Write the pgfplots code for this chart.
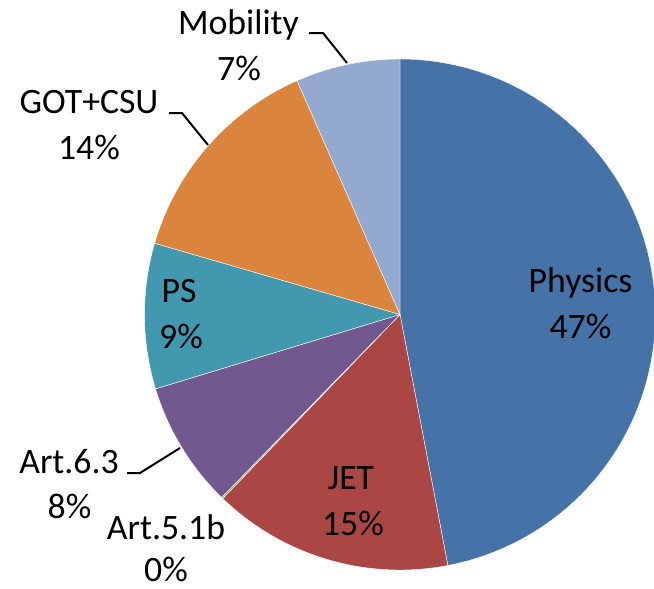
\documentclass[border=0pt]{standalone}
\usepackage{pgfplots}
\usepackage{pgfplotstable}
\pgfplotsset{compat=1.18}
\usepackage{fontspec}
\setmainfont{Carlito}
\definecolor{cA}{HTML}{4572A7}
\definecolor{cB}{HTML}{AA4643}
\definecolor{cC}{HTML}{89A54E}
\definecolor{cD}{HTML}{71588F}
\definecolor{cE}{HTML}{4198AF}
\definecolor{cF}{HTML}{DB843D}
\definecolor{cG}{HTML}{93A9CF}
\pgfplotstableread{
label value
Physics 47.0
JET 15.2
Art.5.1b 0.1
Art.6.3 8.0
PS 9.2
GOT+CSU 13.9
Mobility 6.6
}\piedata
\begin{document}
\begin{tikzpicture}
\gdef\piecum{0}
\foreach \i/\n in {0/A,1/B,2/C,3/D,4/E,5/F,6/G}{%
  \pgfplotstablegetelem{\i}{value}\of\piedata
  \pgfmathsetmacro\pieTmpS{\piecum*3.6}%
  \pgfmathsetmacro\pieTmpE{(\piecum+\pgfplotsretval)*3.6}%
  \expandafter\xdef\csname pieS\n\endcsname{\pieTmpS}%
  \expandafter\xdef\csname pieE\n\endcsname{\pieTmpE}%
  \pgfmathsetmacro\pieTmpC{\piecum+\pgfplotsretval}%
  \xdef\piecum{\pieTmpC}%
}
\begin{axis}[
  x=0.75pt, y=0.75pt,
  xmin=0, xmax=654, ymin=0, ymax=589,
  y dir=reverse,
  hide axis, clip=false,
  enlargelimits=false,
]
\coordinate (bl) at (axis cs:0,589);
\coordinate (tr) at (axis cs:654,0);
\foreach \n in {A,B,C,D,E,F,G}{%
  \edef\pietmp{\noexpand\fill[c\n, draw=white, line width=0.3pt] (axis cs:400,314.5) -- plot[domain=\csname pieS\n\endcsname:\csname pieE\n\endcsname, samples=80, variable=\noexpand\t] (axis cs:{400+255.5*sin(\noexpand\t)},{314.5-255.5*cos(\noexpand\t)}) -- cycle;}%
  \pietmp
}
\draw[black, line width=1.5pt] (axis cs:309,33) -- (axis cs:323,33) -- (axis cs:347,63);
\draw[black, line width=1.5pt] (axis cs:169,113) -- (axis cs:182,113) -- (axis cs:208,145);
\draw[black, line width=1.5pt] (axis cs:127,473) -- (axis cs:140,473) -- (axis cs:180,448);
\begin{scope}[every node/.style={anchor=base, inner sep=0pt, font=\fontsize{26.8}{32}\selectfont}]
\node at (axis cs:580.5,292) {Physics};
\node at (axis cs:580.5,338) {47\%};
\node at (axis cs:351,489) {JET};
\node at (axis cs:353,535) {15\%};
\node at (axis cs:166,539) {Art.5.1b};
\node at (axis cs:166,581) {0\%};
\node at (axis cs:69,473) {Art.6.3};
\node at (axis cs:69.5,518) {8\%};
\node at (axis cs:179,302) {PS};
\node at (axis cs:181,348) {9\%};
\node at (axis cs:89,113) {GOT+CSU};
\node at (axis cs:89,159) {14\%};
\node at (axis cs:238.5,35) {Mobility};
\node at (axis cs:239,80) {7\%};
\end{scope}
\end{axis}
\pgfresetboundingbox
\path[use as bounding box] (bl) rectangle (tr);
\end{tikzpicture}
\end{document}
